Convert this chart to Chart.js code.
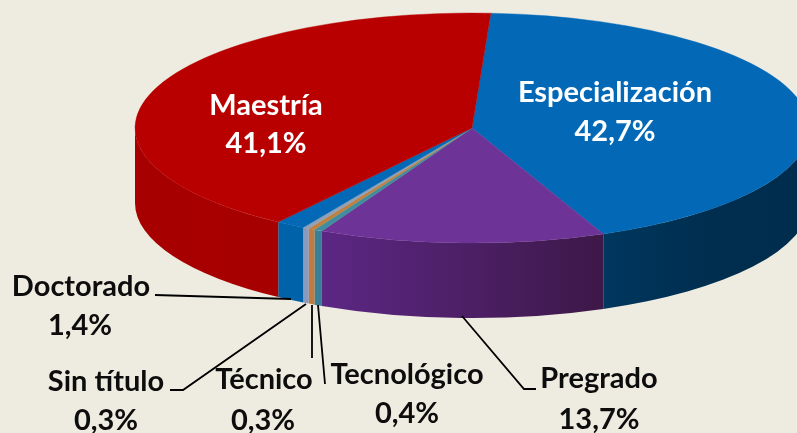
<!DOCTYPE html>
<html><head><meta charset="utf-8">
<style>html,body{margin:0;padding:0;background:#EEECE1;overflow:hidden}canvas{display:block}</style>
<script src="https://cdn.jsdelivr.net/npm/chart.js@4"></script>
</head><body><canvas id="c" width="797" height="433"></canvas>
<script>
const categories = ['Especialización','Pregrado','Tecnológico','Técnico','Sin título','Doctorado','Maestría'];
const values = [42.7,13.7,0.4,0.3,0.3,1.4,41.1];
const topColors = ['#0369B7','#6E3396','#3F8E9F','#C0803F','#8FA0B8','#0369B7','#B90000'];
const sideStops = [['#00375E','#002E4F','#002D4D'],['#5C2784','#3D1848'],['#3A7F96','#3A7F96'],['#C47A3A','#C47A3A'],['#8A9ABC','#8A9ABC'],['#0062A8','#0062A8'],['#A60000','#A80000','#A60000']];
const labelSpots = {
 'Maestría':[266,106,266,144,'#fff'],'Especialización':[615,93,615,132,'#fff'],
 'Doctorado':[81,287,80,326,'#0d0d0d'],'Sin título':[106,382,106,421,'#0d0d0d'],
 'Técnico':[264,380,263,421,'#0d0d0d'],'Tecnológico':[407,375,407,414,'#0d0d0d'],'Pregrado':[599,379,599,420,'#0d0d0d']};
const leaders = [[[155,295],[291,299]],[[170,390],[183,390],[306,304]],[[312,305],[312,358]],[[318,305],[325,384]],[[462,316],[524,389],[536,389]]];
const view = {cx:472,cy:128,rx:337,ry:115,depth:75};

const fmt = v => v.toFixed(1).replace('.',',')+'%';
const pie3d = {
 id:'pie3d',
 beforeDatasetDraw(chart){
  const ctx=chart.ctx, arcs=chart.getDatasetMeta(0).data;
  arcs.forEach((arc,i)=>{
   const p=arc.getProps(['startAngle','endAngle']);
   const s=Math.max(p.startAngle,0), e=Math.min(p.endAngle,Math.PI);
   if(e<=s) return;
   const x0=view.cx+view.rx*Math.cos(s), x1=view.cx+view.rx*Math.cos(e);
   const g=ctx.createLinearGradient(Math.max(x0,x1),0,Math.min(x0,x1),0);
   const ordered = sideStops[i].slice();
   if(i<=1) ordered.reverse();
   ordered.forEach((c,k)=>g.addColorStop(k/(ordered.length-1),c));
   ctx.save();
   ctx.beginPath();
   ctx.ellipse(view.cx,view.cy,view.rx,view.ry,0,s,e);
   ctx.ellipse(view.cx,view.cy+view.depth,view.rx,view.ry,0,e,s,true);
   ctx.closePath();
   ctx.fillStyle=g;ctx.fill();
   ctx.restore();
  });
  const a=arcs[0];
  ctx.save();
  ctx.translate(view.cx,view.cy);
  ctx.scale(view.rx/a.outerRadius,view.ry/a.outerRadius);
  ctx.translate(-a.x,-a.y);
 },
 afterDatasetDraw(chart){chart.ctx.restore();},
 afterDraw(chart){
  const ctx=chart.ctx;
  ctx.save();
  ctx.strokeStyle='#000';ctx.lineWidth=1.8;
  leaders.forEach(l=>{ctx.beginPath();l.forEach((p,i)=>i?ctx.lineTo(p[0],p[1]):ctx.moveTo(p[0],p[1]));ctx.stroke();});
  ctx.textAlign='center';ctx.textBaseline='middle';
  ctx.font='bold 29px Lato';
  categories.forEach((name,i)=>{
   const s=labelSpots[name];
   ctx.fillStyle=s[4];
   ctx.fillText(name,s[0],s[1]);
   ctx.fillText(fmt(values[i]),s[2],s[3]);
  });
  ctx.restore();
 }
};
new Chart(document.getElementById('c'),{
 type:'pie',
 data:{labels:categories,datasets:[{data:values,backgroundColor:topColors,borderColor:topColors,borderWidth:0.4,clip:false}]},
 options:{responsive:false,animation:false,rotation:3.2,layout:{padding:0},
  plugins:{legend:{display:false},tooltip:{enabled:false}}},
 plugins:[pie3d]
});
</script></body></html>
